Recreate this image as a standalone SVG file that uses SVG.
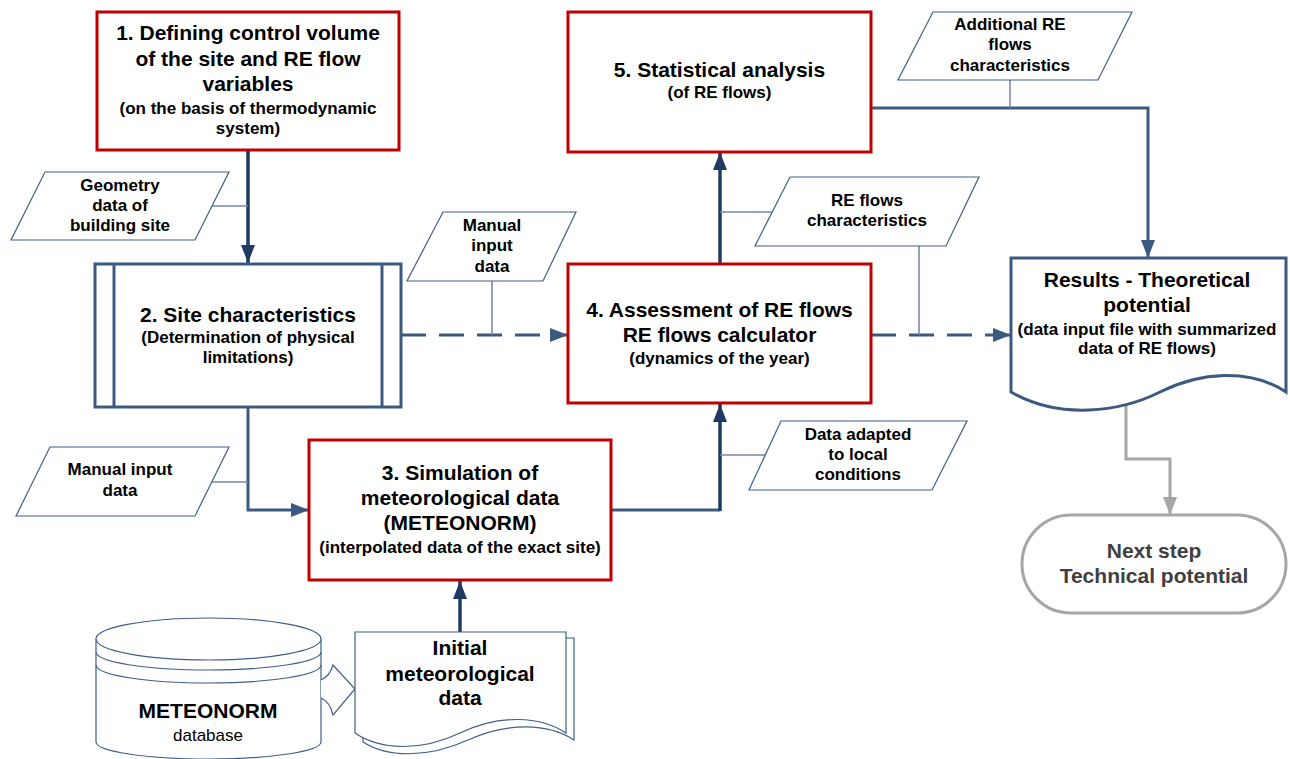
<svg xmlns="http://www.w3.org/2000/svg" width="1290" height="759" viewBox="0 0 1290 759">
<style>
  .t{font-family:"Liberation Sans",Arial,sans-serif;font-weight:bold;text-anchor:middle;fill:#000}
  .h{font-size:21px}
  .s{font-size:17px}
  .p{font-size:17px}
  .red{fill:#fff;stroke:#c00000;stroke-width:3}
  .blue{fill:#fff;stroke:#3c5a80;stroke-width:3}
  .thin{fill:#fff;stroke:#3f5f8a;stroke-width:1.2}
  .cn{fill:none;stroke:#6f86a6;stroke-width:1.5}
  .nav{fill:none;stroke:#1f3a63;stroke-width:3.5}
  .stl{fill:none;stroke:#3c5a80;stroke-width:3}
  .dash{fill:none;stroke:#3c5a80;stroke-width:3;stroke-dasharray:25 13}
  .gry{fill:none;stroke:#a6a6a6;stroke-width:3}
</style>
<defs>
  <marker id="aN" viewBox="0 0 18 14" markerWidth="18" markerHeight="14" refX="18" refY="7" orient="auto" markerUnits="userSpaceOnUse"><path d="M0,0 L18,7 L0,14 z" fill="#1f3a63"/></marker>
  <marker id="aS" viewBox="0 0 18 14" markerWidth="18" markerHeight="14" refX="18" refY="7" orient="auto" markerUnits="userSpaceOnUse"><path d="M0,0 L18,7 L0,14 z" fill="#3c5a80"/></marker>
  <marker id="aG" viewBox="0 0 18 14" markerWidth="18" markerHeight="14" refX="18" refY="7" orient="auto" markerUnits="userSpaceOnUse"><path d="M0,0 L18,7 L0,14 z" fill="#a6a6a6"/></marker>
</defs>

<g id="connectors">
  <path class="nav" d="M248,150 V263" marker-end="url(#aN)"/>
  <path class="cn" d="M212,206 H248"/>
  <path class="stl" d="M248,407 V510 H309" marker-end="url(#aS)"/>
  <path class="cn" d="M212,482 H248"/>
  <path class="dash" d="M401,335 H568" marker-end="url(#aS)"/>
  <path class="cn" d="M492,281 V335"/>
  <path class="stl" d="M611,510 H720"/>
  <path class="nav" d="M720,511 V404" marker-end="url(#aN)"/>
  <path class="cn" d="M720,455 H768"/>
  <path class="nav" d="M720,264 V152" marker-end="url(#aN)"/>
  <path class="cn" d="M720,212 H773"/>
  <path class="dash" d="M871,335 H1011" marker-end="url(#aS)"/>
  <path class="cn" d="M919,246 V335"/>
  <path class="stl" d="M871,108 H1148 V258" marker-end="url(#aS)"/>
  <path class="cn" d="M1010,80 V108"/>
  <path class="nav" d="M460,632 V581" marker-end="url(#aN)"/>
  <path class="gry" d="M1126,400 V459 H1170 V515" marker-end="url(#aG)"/>
</g>

<g id="node1">
  <rect class="red" x="97" y="12" width="302" height="138"/>
  <text class="t h" x="248" y="40">1. Defining control volume</text>
  <text class="t h" x="248" y="65.5">of the site and RE flow</text>
  <text class="t h" x="248" y="91">variables</text>
  <text class="t s" x="248" y="114">(on the basis of thermodynamic</text>
  <text class="t s" x="248" y="134">system)</text>
</g>

<g id="geometry">
  <polygon class="thin" points="45,172 229,172 195,240 11,240"/>
  <text class="t p" x="120" y="191">Geometry</text>
  <text class="t p" x="120" y="211">data of</text>
  <text class="t p" x="120" y="231">building site</text>
</g>

<g id="node2">
  <rect class="blue" x="95" y="264" width="306" height="143"/>
  <line x1="114" y1="264" x2="114" y2="407" stroke="#3c5a80" stroke-width="3"/>
  <line x1="382" y1="264" x2="382" y2="407" stroke="#3c5a80" stroke-width="3"/>
  <text class="t h" x="248" y="322">2. Site characteristics</text>
  <text class="t s" x="248" y="343">(Determination of physical</text>
  <text class="t s" x="248" y="363">limitations)</text>
</g>

<g id="manual1">
  <polygon class="thin" points="443,212 576,212 543,281 407,281"/>
  <text class="t p" x="492" y="231">Manual</text>
  <text class="t p" x="492" y="251">input</text>
  <text class="t p" x="492" y="272">data</text>
</g>

<g id="manual2">
  <polygon class="thin" points="50,447 229,447 195,516 16,516"/>
  <text class="t p" x="120" y="475">Manual input</text>
  <text class="t p" x="120" y="496">data</text>
</g>

<g id="node3">
  <rect class="red" x="309" y="440" width="302" height="140"/>
  <text class="t h" x="460" y="480">3. Simulation of</text>
  <text class="t h" x="460" y="505">meteorological data</text>
  <text class="t h" x="460" y="530">(METEONORM)</text>
  <text class="t s" x="460" y="553">(interpolated data of the exact site)</text>
</g>

<g id="node4">
  <rect class="red" x="568" y="264" width="303" height="139"/>
  <text class="t h" x="719.5" y="317">4. Assessment of RE flows</text>
  <text class="t h" x="719.5" y="342">RE flows calculator</text>
  <text class="t s" x="719.5" y="364">(dynamics of the year)</text>
</g>

<g id="reflows">
  <polygon class="thin" points="790,177 979,177 946,246 755,246"/>
  <text class="t p" x="867" y="206">RE flows</text>
  <text class="t p" x="867" y="226">characteristics</text>
</g>

<g id="dataadapted">
  <polygon class="thin" points="781,421 967,421 932,490 749,490"/>
  <text class="t p" x="858" y="440">Data adapted</text>
  <text class="t p" x="858" y="460">to local</text>
  <text class="t p" x="858" y="480">conditions</text>
</g>

<g id="node5">
  <rect class="red" x="568" y="12" width="303" height="140"/>
  <text class="t h" x="719.5" y="77">5. Statistical analysis</text>
  <text class="t s" x="719.5" y="98">(of RE flows)</text>
</g>

<g id="additional">
  <polygon class="thin" points="933,12 1132,12 1098,80 898,80"/>
  <text class="t p" x="1010" y="30">Additional RE</text>
  <text class="t p" x="1010" y="50">flows</text>
  <text class="t p" x="1010" y="71">characteristics</text>
</g>

<g id="results">
  <path class="blue" d="M1011,258 H1286 V392 C1250,368 1200,372 1160,392 C1120,412 1060,420 1011,392 Z"/>
  <text class="t h" x="1147" y="287">Results - Theoretical</text>
  <text class="t h" x="1147" y="312">potential</text>
  <text class="t s" x="1147" y="335">(data input file with summarized</text>
  <text class="t s" x="1147" y="354">data of RE flows)</text>
</g>

<g id="nextstep">
  <rect x="1022" y="515" width="264" height="98" rx="49" ry="49" fill="#fff" stroke="#a6a6a6" stroke-width="3"/>
  <text class="t h" x="1154" y="558" style="fill:#404040">Next step</text>
  <text class="t h" x="1154" y="583" style="fill:#404040">Technical potential</text>
</g>

<g id="database">
  <path class="thin" d="M96,639 V742 A112.5,17 0 0 0 321,742 V639"/>
  <ellipse class="thin" cx="208.5" cy="639" rx="112.5" ry="21"/>
  <path fill="none" stroke="#3f5f8a" stroke-width="1.2" d="M96,652 A112.5,18 0 0 0 321,652"/>
  <path fill="none" stroke="#3f5f8a" stroke-width="1.2" d="M96,665 A112.5,18 0 0 0 321,665"/>
  <text class="t h" x="208" y="718">METEONORM</text>
  <text x="208" y="741" style="font-family:'Liberation Sans',Arial,sans-serif;font-size:17px;text-anchor:middle;fill:#000">database</text>
</g>

<g id="blockarrow">
  <path class="thin" d="M321,680 Q330,676 333,665 L355,689 L333,715 Q330,702 321,698"/>
</g>

<g id="initial">
  <path class="thin" d="M363,638 H574 V740 C548,723 508,722 468,740 C428,758 388,758 363,742 Z"/>
  <path class="thin" d="M355,632 H566 V733 C540,716 500,714 460,733 C420,752 380,750 355,733 Z"/>
  <text class="t h" x="460" y="655">Initial</text>
  <text class="t h" x="460" y="681">meteorological</text>
  <text class="t h" x="460" y="705">data</text>
</g>
</svg>
